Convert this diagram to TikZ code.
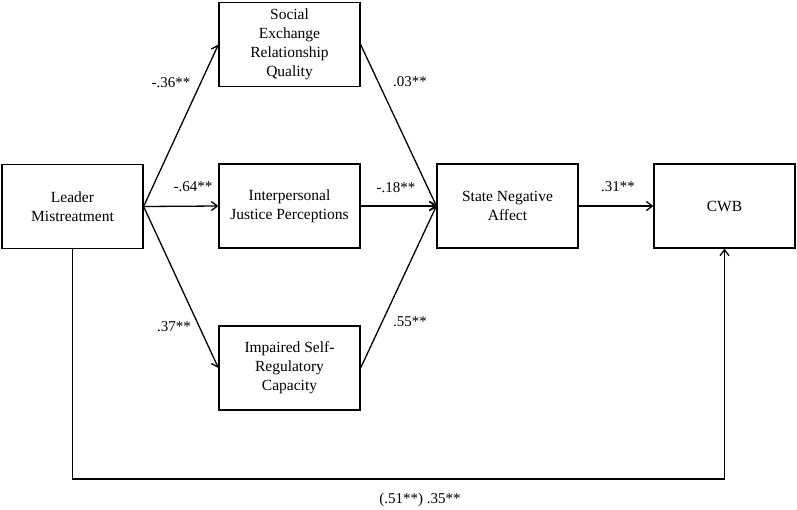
\documentclass[tikz,border=0pt]{standalone}
\usepackage{fontspec}
\setmainfont{Liberation Serif}
\usetikzlibrary{arrows.meta}

\begin{document}
\begin{tikzpicture}[x=1pt,y=-1pt,
    box/.style={draw,line width=1.2pt,minimum width=141pt,minimum height=84pt,align=center,font=\fontsize{15.5}{19}\selectfont},
    coef/.style={inner sep=0pt,font=\fontsize{15}{18}\selectfont},
    link/.style={->,>={Straight Barb[length=6pt,width=9pt]},line width=1.3pt}]
    \useasboundingbox (0,0) rectangle (797,509);

    \node (0) at (72.5,206.5) [box] {Leader\\Mistreatment};
    \node (1) at (289.5,44.5) [box] {Social\\Exchange\\Relationship\\Quality};
    \node (2) at (289.5,206)  [box] {Interpersonal\\Justice Perceptions};
    \node (3) at (289.5,368)  [box] {Impaired Self-\\Regulatory\\Capacity};
    \node (4) at (507.5,206)  [box] {State Negative\\Affect};
    \node (5) at (724.5,206)  [box] {CWB};

    \coordinate (bottom) at (398,479);

    \draw[link] (0.east) to (1.west);
    \draw[link] (0.east) to (2.west);
    \draw[link] (0.east) to (3.west);
    \draw[link] (1.east) to (4.west);
    \draw[link] (2.east) to (4.west);
    \draw[link] (3.east) to (4.west);
    \draw[link] (4.east) to (5.west);
    \draw[link] (0.south) |- (bottom) -| (5.south);

    \node (c01) at (171,83)  [coef] {-.36**};
    \node (c02) at (193,187) [coef] {-.64**};
    \node (c03) at (174,327) [coef] {.37**};
    \node (c14) at (410,82)  [coef] {.03**};
    \node (c24) at (396,188) [coef] {-.18**};
    \node (c34) at (410,322) [coef] {.55**};
    \node (c45) at (618,187) [coef] {.31**};
    \node (c05) at (420,500) [coef] {(.51**) .35**};

\end{tikzpicture}
\end{document}
